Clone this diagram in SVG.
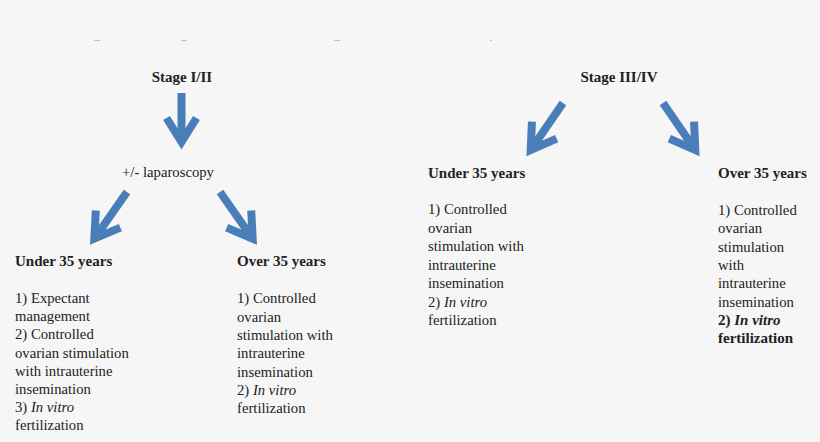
<svg xmlns="http://www.w3.org/2000/svg" width="820" height="442" viewBox="0 0 820 442">
<style>
.t{font-family:"Liberation Serif","Times New Roman",serif;font-size:14.7px;fill:#222}
.b{font-weight:bold;font-size:15px}
.i{font-style:italic}
.arr{fill:none;stroke:#4a7ebb;stroke-width:8;stroke-linejoin:miter;stroke-miterlimit:10}
.dash{stroke:#c4c4c4;stroke-width:1.2}
</style>
<rect width="820" height="442" fill="#f6f6f6"/>
<g id="marks">
<line class="dash" x1="94" y1="40.5" x2="100" y2="40.5"/>
<line class="dash" x1="181" y1="40.5" x2="187" y2="40.5"/>
<line class="dash" x1="334" y1="40.5" x2="340" y2="40.5"/>
<line class="dash" x1="490" y1="40.5" x2="492" y2="40.5"/>
</g>
<g id="connectors">
<g transform="translate(181.5,93)"><path class="arr" d="M0,0 V50 M-15,25 L0,49 L15,25"/></g>
<g transform="translate(127,192) rotate(35)"><path class="arr" d="M0,0 V58 M-15,33 L0,57 L15,33"/></g>
<g transform="translate(220,192) rotate(-35)"><path class="arr" d="M0,0 V58 M-15,33 L0,57 L15,33"/></g>
<g transform="translate(563,103) rotate(34.5)"><path class="arr" d="M0,0 V58 M-15,33 L0,57 L15,33"/></g>
<g transform="translate(663,103) rotate(-34.5)"><path class="arr" d="M0,0 V58 M-15,33 L0,57 L15,33"/></g>
</g>
<g id="stage12"><text class="t b" x="182" y="81.5" text-anchor="middle">Stage I/II</text></g>
<g id="laparoscopy"><text class="t" x="168" y="177" text-anchor="middle">+/- laparoscopy</text></g>
<g id="under35a">
<text class="t b" x="15" y="266">Under 35 years</text>
<text class="t">
<tspan x="15" y="303">1) Expectant</tspan>
<tspan x="15" y="321.2">management</tspan>
<tspan x="15" y="339.3">2) Controlled</tspan>
<tspan x="15" y="357.5">ovarian stimulation</tspan>
<tspan x="15" y="375.6">with intrauterine</tspan>
<tspan x="15" y="393.8">insemination</tspan>
<tspan x="15" y="411.9">3) <tspan class="i">In vitro</tspan></tspan>
<tspan x="15" y="430">fertilization</tspan>
</text>
</g>
<g id="over35a">
<text class="t b" x="237" y="266">Over 35 years</text>
<text class="t">
<tspan x="237" y="303.3">1) Controlled</tspan>
<tspan x="237" y="321.6">ovarian</tspan>
<tspan x="237" y="339.9">stimulation with</tspan>
<tspan x="237" y="358.2">intrauterine</tspan>
<tspan x="237" y="376.5">insemination</tspan>
<tspan x="237" y="394.8">2) <tspan class="i">In vitro</tspan></tspan>
<tspan x="237" y="413.1">fertilization</tspan>
</text>
</g>
<g id="stage34"><text class="t b" x="619" y="81.5" text-anchor="middle">Stage III/IV</text></g>
<g id="under35b">
<text class="t b" x="428" y="178">Under 35 years</text>
<text class="t">
<tspan x="428" y="214">1) Controlled</tspan>
<tspan x="428" y="232.5">ovarian</tspan>
<tspan x="428" y="251">stimulation with</tspan>
<tspan x="428" y="269.5">intrauterine</tspan>
<tspan x="428" y="288">insemination</tspan>
<tspan x="428" y="306.5">2) <tspan class="i">In vitro</tspan></tspan>
<tspan x="428" y="325">fertilization</tspan>
</text>
</g>
<g id="over35b">
<text class="t b" x="718" y="178">Over 35 years</text>
<text class="t">
<tspan x="718" y="215">1) Controlled</tspan>
<tspan x="718" y="233.3">ovarian</tspan>
<tspan x="718" y="251.6">stimulation</tspan>
<tspan x="718" y="269.9">with</tspan>
<tspan x="718" y="288.2">intrauterine</tspan>
<tspan x="718" y="306.5">insemination</tspan>
<tspan x="718" y="324.8" class="b">2) <tspan class="i">In vitro</tspan></tspan>
<tspan x="718" y="343.1" class="b">fertilization</tspan>
</text>
</g>
</svg>
